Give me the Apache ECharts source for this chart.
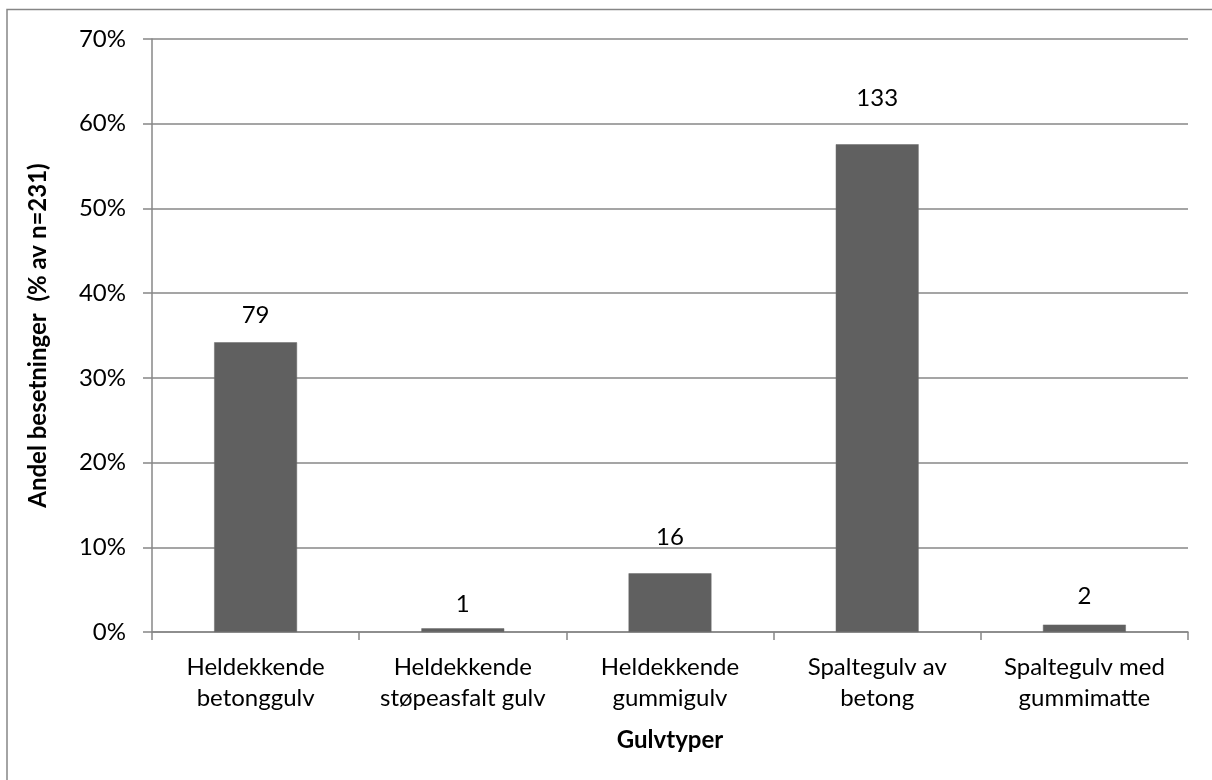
<!DOCTYPE html>
<html>
<head>
<meta charset="utf-8">
<script src="https://cdn.jsdelivr.net/npm/echarts@6/dist/echarts.min.js"></script>
<style>
  html, body { margin: 0; padding: 0; background: #fff; }
  #chart { width: 1212px; height: 780px; }
</style>
</head>
<body>
<div id="chart"></div>
<script>
// Floor types in the surveyed herds
const categories = [
  'Heldekkende\nbetonggulv',
  'Heldekkende\nstøpeasfalt gulv',
  'Heldekkende\ngummigulv',
  'Spaltegulv av\nbetong',
  'Spaltegulv med\ngummimatte'
];
// Number of herds per floor type
const herdCounts = [79, 1, 16, 133, 2];
const totalHerds = 231;
// Share of herds (%), from the counts above
const sharePercent = herdCounts.map(c => c / totalHerds * 100);
const yTicks = [0, 10, 20, 30, 40, 50, 60, 70];

// Extra spacing of each count label above its bar (px)
const labelGap = [15, 12, 24, 34, 16];

const FONT = 'Lato, "Open Sans", sans-serif';
const AXIS_GREY = '#878787';

const chart = echarts.init(document.getElementById('chart'));
chart.setOption({
  animation: false,
  backgroundColor: '#fff',
  graphic: [{
    type: 'rect',
    shape: { x: 7, y: 9.5, width: 1400, height: 1000 },
    style: { fill: 'none', stroke: '#868686', lineWidth: 1.5 },
    silent: true,
    z: -1
  }],
  grid: { left: 152, right: 24, top: 39, bottom: 148, containLabel: false },
  xAxis: {
    type: 'category',
    data: categories,
    name: 'Gulvtyper',
    nameLocation: 'middle',
    nameGap: 108,
    nameTextStyle: { fontFamily: FONT, fontSize: 24, fontWeight: 'bold', color: '#000', verticalAlign: 'middle' },
    axisLine: { lineStyle: { color: AXIS_GREY, width: 1.5 } },
    axisTick: { show: true, alignWithLabel: false, length: 8, lineStyle: { color: AXIS_GREY, width: 1.5 } },
    axisLabel: { fontFamily: FONT, fontSize: 24, color: '#000', margin: 20, lineHeight: 31, interval: 0 }
  },
  yAxis: {
    type: 'value',
    min: yTicks[0],
    max: yTicks[yTicks.length - 1],
    interval: 10,
    name: 'Andel besetninger  (% av n=231)',
    nameLocation: 'middle',
    nameGap: 114,
    nameRotate: 90,
    nameTextStyle: { fontFamily: FONT, fontSize: 24, fontWeight: 'bold', color: '#000', verticalAlign: 'middle' },
    axisLine: { show: true, lineStyle: { color: AXIS_GREY, width: 1.5 } },
    axisTick: { show: true, length: 9, lineStyle: { color: AXIS_GREY, width: 1.5 } },
    axisLabel: { fontFamily: FONT, fontSize: 24, color: '#000', margin: 26, formatter: v => v + '%' },
    splitLine: { show: true, lineStyle: { color: AXIS_GREY, width: 1.5 } }
  },
  series: [{
    type: 'bar',
    barWidth: '40%',
    itemStyle: { color: '#606060', borderColor: '#6a6a6a', borderWidth: 0.5 },
    data: sharePercent.map((v, i) => ({
      value: v,
      label: { distance: labelGap[i] }
    })),
    label: {
      show: true,
      position: 'top',
      fontFamily: FONT,
      fontSize: 24,
      color: '#000',
      formatter: p => String(herdCounts[p.dataIndex])
    }
  }]
});
</script>
</body>
</html>
